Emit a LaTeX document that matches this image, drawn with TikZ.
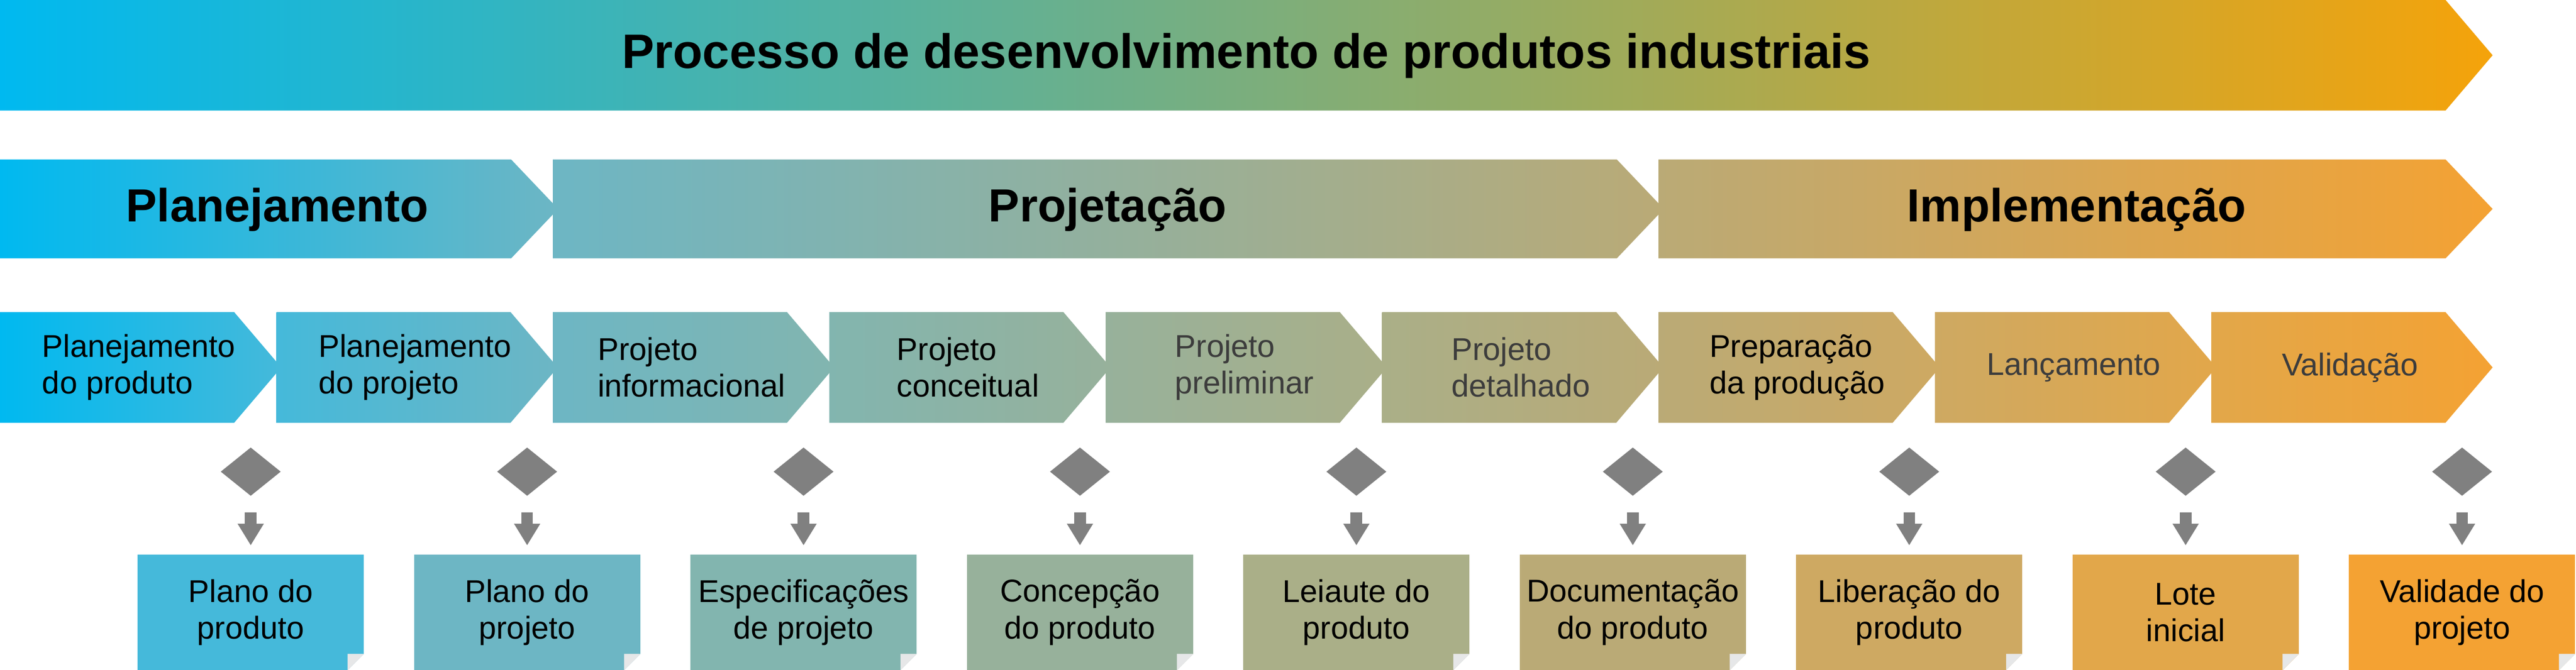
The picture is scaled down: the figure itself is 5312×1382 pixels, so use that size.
\documentclass[tikz,border=0pt]{standalone}
\usepackage{fontspec}
\setmainfont{Liberation Sans}
\usetikzlibrary{arrows.meta,shapes.geometric}

\definecolor{c0}{HTML}{00B9F0}
\definecolor{c1}{HTML}{45B9DA}
\definecolor{c2}{HTML}{6DB6C4}
\definecolor{c3}{HTML}{82B5AF}
\definecolor{c4}{HTML}{97B19B}
\definecolor{c5}{HTML}{AAAF88}
\definecolor{c6}{HTML}{BAAA76}
\definecolor{c7}{HTML}{CEA962}
\definecolor{c8}{HTML}{E2A74A}
\definecolor{c9}{HTML}{F4A233}
\definecolor{topend}{HTML}{F5A30A}
\definecolor{markgray}{HTML}{808080}
\definecolor{foldgray}{HTML}{E6E7E8}
\definecolor{softtext}{HTML}{3C3C3C}

\tikzset{
    titletext/.style={font=\fontsize{28.4}{34}\bfseries\selectfont},
    phasetext/.style={font=\fontsize{27.3}{33}\bfseries\selectfont},
    steptext/.style={font=\fontsize{18.5}{21.5}\selectfont, align=left, inner sep=0pt},
    doc/.style={font=\fontsize{18.5}{21.5}\selectfont, align=center,
        minimum width=4.66cm, minimum height=2.38cm, inner sep=0pt},
    gate/.style={diamond, fill=markgray, minimum width=1.24cm, minimum height=1.0cm, inner sep=0pt},
    flow/.style={markgray, line width=0.24cm, shorten <=0.33cm, shorten >=0.18cm,
        -{Triangle[width=0.51cm,length=0.45cm]}}
}

\begin{document}
\begin{tikzpicture}[x=0.01cm, y=-0.01cm]
    \useasboundingbox (0,0) rectangle (5312,1382);

    \shade[left color=c0, right color=topend] (0,0) -- (5043,0) -- (5140,114) -- (5043,228) -- (0,228) -- cycle;
    \node[titletext, anchor=base] (title) at (2570,141) {Processo de desenvolvimento de produtos industriais};

    \shade[left color=c0, right color=c2] (0,329) -- (1054,329) -- (1151,431) -- (1054,533) -- (0,533) -- cycle;
    \shade[left color=c2, right color=c6] (1140,329) -- (3334,329) -- (3431,431) -- (3334,533) -- (1140,533) -- cycle;
    \shade[left color=c6, right color=c9] (3420,329) -- (5043,329) -- (5140,431) -- (5043,533) -- (3420,533) -- cycle;
    \node[phasetext, anchor=base] (plan) at (572,457) {Planejamento};
    \node[phasetext, anchor=base] (proj) at (2284,457) {Projetação};
    \node[phasetext, anchor=base] (impl) at (4282,457) {Implementação};

    \foreach \k/\txt/\tc/\out in {
        1/{Planejamento\\do produto}/black/{Plano do\\produto},
        2/{Planejamento\\do projeto}/black/{Plano do\\projeto},
        3/{Projeto\\informacional}/black/{Especificações\\de projeto},
        4/{Projeto\\conceitual}/black/{Concepção\\do produto},
        5/{Projeto\\preliminar}/softtext/{Leiaute do\\produto},
        6/{Projeto\\detalhado}/softtext/{Documentação\\do produto},
        7/{Preparação\\da produção}/black/{Liberação do\\produto},
        8/{Lançamento}/softtext/{Lote\\inicial},
        9/{Validação}/softtext/{Validade do\\projeto}} {
        \pgfmathtruncatemacro\km{\k-1}
        \pgfmathsetmacro\s{570*(\k-1)}
        \shade[left color=c\km, right color=c\k] (\s,644) -- ++(483,0) -- ++(97,114) -- ++(-97,114) -- ++(-483,0) -- cycle;
        \node[steptext, text=\tc] (st\k) at (\s+286,758) {\txt};
        \node[gate] (g\k) at (\s+517,973) {};
        \node[doc, fill=c\k] (d\k) at (\s+517,1263) {\out};
        \fill[white] (d\k.south east) -- ++(0,-34) -- ++(-34,34) -- cycle;
        \fill[foldgray] ([yshift=0.34cm]d\k.south east) -- ++(-34,0) -- ++(0,34) -- cycle;
        \draw[flow] (g\k) -- (d\k);
    }
\end{tikzpicture}
\end{document}
